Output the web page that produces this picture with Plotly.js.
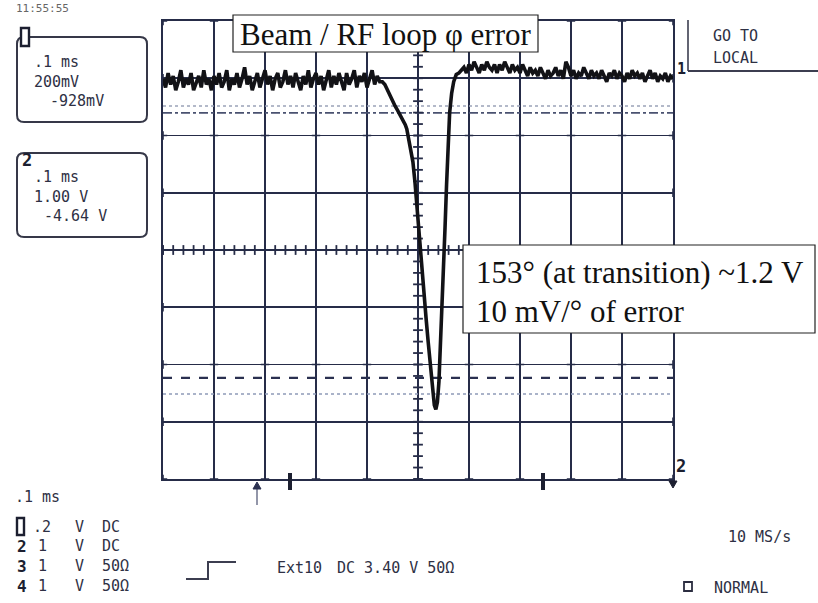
<!DOCTYPE html>
<html>
<head>
<meta charset="utf-8">
<script src="https://cdn.plot.ly/plotly-3.0.1.min.js"></script>
<style>html,body{margin:0;padding:0;background:#fff;}#chart{width:818px;height:603px;}</style>
</head>
<body>
<div id="chart"></div>
<script>
// ---- Data (channel 1, volts vs. time in ms; 0.1 ms/div, 200 mV/div, offset -928 mV) ----
const SAMPLE_MS = 0.005;
const preStartMs = 0.0;
const preValues = [-0.33,-0.36,-0.31,-0.35,-0.32,-0.37,-0.34,-0.30,-0.36,-0.33,
-0.35,-0.31,-0.37,-0.34,-0.32,-0.36,-0.30,-0.35,-0.33,-0.37,
-0.32,-0.35,-0.31,-0.36,-0.34,-0.30,-0.37,-0.33,-0.35,-0.31,
-0.36,-0.33,-0.29,-0.35,-0.32,-0.37,-0.34,-0.31,-0.36,-0.33,
-0.30,-0.35,-0.32,-0.37,-0.33,-0.31,-0.36,-0.34,-0.30,-0.35,
-0.32,-0.36,-0.31,-0.34,-0.37,-0.32,-0.35,-0.30,-0.36,-0.33,
-0.31,-0.35,-0.32,-0.37,-0.34,-0.30,-0.36,-0.32,-0.35,-0.31,
-0.34,-0.37,-0.31,-0.35,-0.33,-0.30,-0.36,-0.32,-0.34,-0.31,
-0.36,-0.33,-0.30,-0.35,-0.32,-0.34];
const dipTimes = [0.430,0.435,0.440,0.445,0.450,0.455,0.460,0.465,0.470,0.475,0.478,0.482,0.486,0.490,0.494,0.497,0.500,0.504,0.508,0.512,0.516,0.520,0.524,0.528,0.532,0.535,0.538,0.541,0.544,0.547,0.550,0.553,0.556,0.559,0.562,0.566,0.570,0.575,0.580];
const dipValues = [-0.34,-0.35,-0.37,-0.39,-0.41,-0.425,-0.44,-0.455,-0.47,-0.49,-0.505,-0.54,-0.575,-0.62,-0.69,-0.76,-0.83,-0.93,-1.02,-1.10,-1.17,-1.25,-1.33,-1.42,-1.47,-1.485,-1.46,-1.39,-1.27,-1.15,-1.00,-0.85,-0.70,-0.54,-0.45,-0.38,-0.34,-0.315,-0.31];
const postStartMs = 0.585;
const postValues = [-0.30,-0.29,-0.31,-0.28,-0.30,-0.27,-0.29,-0.31,-0.28,-0.30,
-0.27,-0.29,-0.30,-0.28,-0.31,-0.28,-0.30,-0.27,-0.29,-0.31,
-0.28,-0.30,-0.29,-0.31,-0.28,-0.30,-0.32,-0.29,-0.31,-0.30,
-0.32,-0.29,-0.31,-0.33,-0.30,-0.32,-0.31,-0.29,-0.32,-0.30,
-0.33,-0.27,-0.29,-0.32,-0.30,-0.33,-0.31,-0.32,-0.29,-0.31,
-0.33,-0.30,-0.32,-0.31,-0.33,-0.30,-0.32,-0.34,-0.31,-0.32,
-0.30,-0.33,-0.31,-0.32,-0.34,-0.31,-0.33,-0.30,-0.32,-0.31,
-0.33,-0.31,-0.34,-0.32,-0.30,-0.33,-0.31,-0.34,-0.32,-0.33,
-0.31,-0.34,-0.32,-0.33];
// reference level markers (volts on ch1 scale)
const refLevels = [-0.425, -0.449, -1.375, -1.431];
const refDash   = ['dot', 'dashdot', 'dash', 'dot'];
const refColor  = ['#9aa3b8', '#4a5270', '#2a3050', '#8e9ab8'];
// axis settings
const xRange = [0, 1.0];       // ms, 10 divisions
const yCenter = -0.928, vPerDiv = 0.2, nDivY = 8;
const yRange = [yCenter - vPerDiv*nDivY/2, yCenter + vPerDiv*nDivY/2];

// ---- build trace arrays ----
const tx = [], ty = [];
preValues.forEach((v,i)=>{ tx.push(+(preStartMs + i*SAMPLE_MS).toFixed(4)); ty.push(v); });
dipTimes.forEach((t,i)=>{ tx.push(t); ty.push(dipValues[i]); });
postValues.forEach((v,i)=>{ tx.push(+(postStartMs + i*SAMPLE_MS).toFixed(4)); ty.push(v); });

// ---- pixel helpers for decorations ----
const L=163, R=673, T=21, B=479, W=R-L, H=B-T;
const px = x => (x-L)/W;
const py = y => (B-y)/H;

const ink = '#262c48';
const txtInk = '#2e3044';
const mono = 'DejaVu Sans Mono, Liberation Mono, monospace';
const serif = 'Liberation Serif, Times New Roman, serif';

const traces = [];
refLevels.forEach((lv,i)=>{
  traces.push({x:xRange, y:[lv,lv], mode:'lines', line:{color:refColor[i], width: i===2?2.2:1.6, dash:refDash[i]}, hoverinfo:'skip', showlegend:false});
});
const cx = (xRange[0]+xRange[1])/2;
const vt=[], ht=[];
for (let k=0;k<=nDivY*5;k++) vt.push(yRange[0]+k*vPerDiv/5);
for (let k=0;k<=50;k++) ht.push(xRange[0]+k*0.02);
traces.push({x:vt.map(()=>cx), y:vt, mode:'markers', marker:{symbol:'line-ew', size:7, line:{width:1.8,color:ink}}, hoverinfo:'skip', showlegend:false});
traces.push({x:ht, y:ht.map(()=>yCenter), mode:'markers', marker:{symbol:'line-ns', size:7, line:{width:1.8,color:ink}}, hoverinfo:'skip', showlegend:false});
const gx=[], gy=[];
for (let i=0;i<=10;i++) for (let j=0;j<=nDivY;j++){ gx.push(xRange[0]+i*0.1); gy.push(yRange[0]+j*vPerDiv); }
traces.push({x:gx, y:gy, mode:'markers', marker:{symbol:'cross-thin', size:6, line:{width:1.6,color:ink}}, hoverinfo:'skip', showlegend:false});
traces.push({x:tx, y:ty, mode:'lines', line:{color:'#121216', width:3.6}, hoverinfo:'skip', showlegend:false});

function rrect(x0,y0,x1,y1,r){
  return `M ${px(x0+r)},${py(y0)} L ${px(x1-r)},${py(y0)} Q ${px(x1)},${py(y0)} ${px(x1)},${py(y0+r)} L ${px(x1)},${py(y1-r)} Q ${px(x1)},${py(y1)} ${px(x1-r)},${py(y1)} L ${px(x0+r)},${py(y1)} Q ${px(x0)},${py(y1)} ${px(x0)},${py(y1-r)} L ${px(x0)},${py(y0+r)} Q ${px(x0)},${py(y0)} ${px(x0+r)},${py(y0)} Z`;
}
function line(x0,y0,x1,y1,w,c){ return {type:'line', xref:'paper', yref:'paper', x0:px(x0), y0:py(y0), x1:px(x1), y1:py(y1), line:{color:c||ink, width:w||1.5}}; }

const shapes = [
  {type:'path', xref:'paper', yref:'paper', path:rrect(17,37,147,122,7), line:{color:'#363848', width:2}},
  {type:'path', xref:'paper', yref:'paper', path:rrect(17,153,147,237,7), line:{color:'#363848', width:2}},
  line(688,20,688,71,1.6,'#3c3e50'),
  line(688,71,818,71,2,'#3c3e50'),
  {type:'rect', xref:'paper', yref:'paper', x0:px(233), y0:py(15), x1:px(538), y1:py(52), fillcolor:'#fff', line:{color:'#222', width:1.2}, layer:'above'},
  {type:'rect', xref:'paper', yref:'paper', x0:px(463), y0:py(245), x1:px(815), y1:py(333), fillcolor:'#fff', line:{color:'#222', width:1.2}, layer:'above'},
  line(257,486,257,505,1.2,'#4a5070'),
  {type:'path', xref:'paper', yref:'paper', path:`M ${px(253)},${py(489)} L ${px(257)},${py(482)} L ${px(261)},${py(489)} Z`, fillcolor:'#2b3150', line:{color:'#2b3150', width:1}},
  line(290,473,290,490,4,'#1c1f30'),
  line(543,473,543,490,4,'#1c1f30'),
  {type:'path', xref:'paper', yref:'paper', path:`M ${px(669)},${py(481)} L ${px(677)},${py(481)} L ${px(673)},${py(488)} Z`, fillcolor:'#1c1f30', line:{color:'#1c1f30', width:1}},
  {type:'path', xref:'paper', yref:'paper', path:`M ${px(186)},${py(579)} L ${px(208)},${py(579)} L ${px(208)},${py(562)} L ${px(236)},${py(562)}`, line:{color:'#3c3e50', width:2}},
  {type:'rect', xref:'paper', yref:'paper', x0:px(21), y0:py(28), x1:px(29), y1:py(46), fillcolor:'#fff', line:{color:'#1c1f30', width:2.4}},
  {type:'rect', xref:'paper', yref:'paper', x0:px(17), y0:py(518), x1:px(24), y1:py(535), fillcolor:'#fff', line:{color:'#1c1f30', width:2.4}},
  {type:'rect', xref:'paper', yref:'paper', x0:px(684), y0:py(582), x1:px(692), y1:py(591), line:{color:'#2b2d40', width:1.8}},
];

function txt(x,y,text,opt){
  opt = opt||{};
  return {xref:'paper', yref:'paper', x:px(x), y:py(y), text:text, showarrow:false,
    xanchor:opt.xa||'left', yanchor:opt.ya||'middle', align:opt.align||'left',
    font:{family:opt.family||mono, size:opt.size||15, color:opt.color||txtInk}};
}
const bold = (s)=>'<b>'+s+'</b>';

const annotations = [
  txt(14,9,'11:55:55',{size:11,color:'#666'}),
  txt(32,62,'.1 ms'),
  txt(32,82,'200mV'),
  txt(48,101,'-928mV'),
  txt(20,160,bold('2'),{size:17,color:'#1c1f30'}),
  txt(32,177,'.1 ms'),
  txt(32,197,'1.00 V'),
  txt(42,216,'-4.64 V'),
  txt(711,36,'GO TO'),
  txt(711,58,'LOCAL'),
  txt(675,69,bold('1'),{size:15,color:'#1c1f30'}),
  txt(674,466,bold('2'),{size:17,color:'#1c1f30'}),
  txt(385.5,34,'Beam / RF loop φ error',{family:serif,size:31,color:'#111',xa:'center'}),
  txt(474,272,'153° (at transition) ~1.2 V',{family:serif,size:31,color:'#111'}),
  txt(474,311,'10 mV/° of error',{family:serif,size:31,color:'#111'}),
  txt(13,497,'.1 ms'),
  txt(31,527,'.2'), txt(73,527,'V'), txt(100,527,'DC'),
  txt(15,546,bold('2'),{size:16,color:'#1c1f30'}), txt(36,546,'1'), txt(73,546,'V'), txt(100,546,'DC'),
  txt(15,566,bold('3'),{size:16,color:'#1c1f30'}), txt(36,566,'1'), txt(73,566,'V'), txt(100,566,'50Ω'),
  txt(15,586,bold('4'),{size:16,color:'#1c1f30'}), txt(36,586,'1'), txt(73,586,'V'), txt(100,586,'50Ω'),
  txt(275,568,'Ext10'), txt(335,568,'DC 3.40 V 50Ω'),
  txt(793,537,'10 MS/s',{xa:'right'}),
  txt(712,588,'NORMAL'),
];

const axBase = {showgrid:true, gridcolor:ink, gridwidth:1.8, zeroline:false, showticklabels:false, ticks:'',
  showline:true, mirror:true, linecolor:ink, linewidth:2.2, fixedrange:true};

const layout = {
  width:818, height:603,
  margin:{l:L, r:818-R, t:T, b:603-B, pad:0},
  paper_bgcolor:'#ffffff', plot_bgcolor:'#ffffff',
  showlegend:false,
  xaxis:Object.assign({}, axBase, {range:xRange, tick0:0, dtick:0.1}),
  yaxis:Object.assign({}, axBase, {range:yRange, tick0:yRange[0], dtick:vPerDiv}),
  shapes:shapes,
  annotations:annotations,
};

Plotly.newPlot('chart', traces, layout, {staticPlot:true, displayModeBar:false});
</script>
</body>
</html>
